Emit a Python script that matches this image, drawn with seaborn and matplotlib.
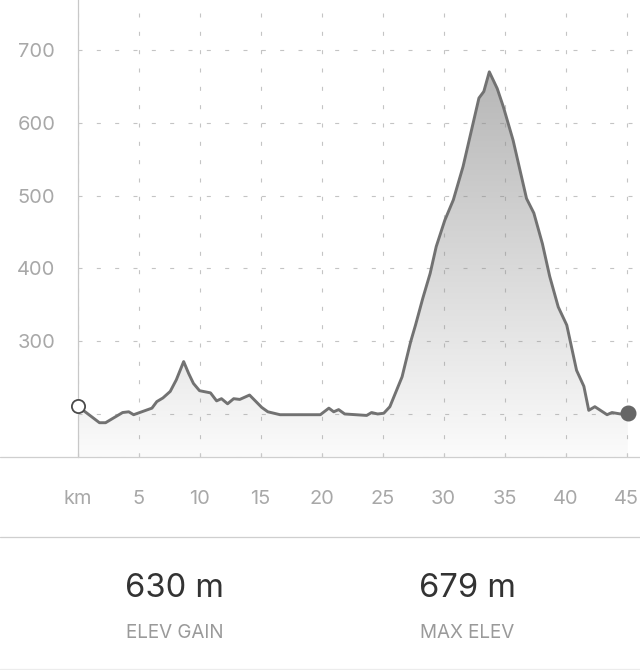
import numpy as np
import matplotlib
matplotlib.use("Agg")
import matplotlib.pyplot as plt
import seaborn as sns
from matplotlib.colors import LinearSegmentedColormap
from matplotlib.lines import Line2D

# ---- data ----
km = [0, 1.8, 2.3, 3.7, 4.2, 4.6, 6.1, 6.5, 7.0, 7.6, 8.1, 8.7, 9.1, 9.5, 10.0,
      10.9, 11.4, 11.8, 12.3, 12.8, 13.3, 14.1, 15.1, 15.6, 16.6, 19.9, 20.6,
      21.0, 21.4, 21.9, 23.7, 24.1, 24.6, 25.1, 25.6, 26.6, 27.3, 27.7, 28.3,
      28.9, 29.4, 30.1, 30.8, 31.6, 32.9, 33.3, 33.75, 34.4, 34.9, 35.7, 36.8,
      37.4, 38.1, 38.7, 39.4, 40.1, 40.9, 41.5, 41.9, 42.4, 43.4, 43.8, 44.5, 45.1]
elev = [211, 188, 188, 202, 203, 199, 208, 217, 222, 231, 247, 272, 256, 242, 232,
        229, 218, 221, 214, 221, 220, 226, 209, 203, 199, 199, 208,
        203, 206, 200, 198, 202, 200, 201, 210, 251, 299, 322, 359,
        393, 430, 466, 494, 540, 634, 643, 670, 647, 622, 576, 496,
        476, 434, 389, 347, 322, 260, 238, 205, 210, 199, 202, 200, 202]
x_ticks = [0, 5, 10, 15, 20, 25, 30, 35, 40, 45]
x_labels = ["km", "5", "10", "15", "20", "25", "30", "35", "40", "45"]
y_ticks = [200, 300, 400, 500, 600, 700]
y_labels = ["", "300", "400", "500", "600", "700"]
stat_values = ["630 m", "679 m"]
stat_names = ["ELEV GAIN", "MAX ELEV"]

sns.set_theme(style="white")
plt.rcParams['font.family'] = ['Inter', 'DejaVu Sans']

W, H = 640, 670
fig = plt.figure(figsize=(W / 100, H / 100), dpi=100)
fig.patch.set_facecolor("white")
ax_bottom_px = 457
ax = fig.add_axes([77.5 / W, 1 - ax_bottom_px / H, 1 - 77.5 / W, ax_bottom_px / H])
ax.set_facecolor("white")

XMIN, XMAX = 0, 46.1
YMIN, YMAX = 140.9, 768.7

# gradient fill clipped to area under the profile
fill = ax.fill_between(km, elev, YMIN, color="none", lw=0, zorder=1)
cmap = LinearSegmentedColormap.from_list("g", ["#aaaaaa", "#fbfbfb"])
grad = np.linspace(0, 1, 256).reshape(-1, 1)
im = ax.imshow(grad, extent=[XMIN, XMAX, YMIN, YMAX], origin="upper",
               cmap=cmap, aspect="auto", zorder=1)
im.set_clip_path(fill.get_paths()[0], transform=ax.transData)

sns.lineplot(x=km, y=elev, ax=ax, color="#727272", lw=2.1, zorder=3)
ax.plot([km[0]], [elev[0]], marker="o", ms=9.5, mfc="white", mec="#4a4a4a",
        mew=1.3, zorder=5, ls="none", clip_on=False)
ax.plot([km[-1]], [elev[-1]], marker="o", ms=10.5, mfc="#666666", mec="#666666",
        zorder=5, ls="none", clip_on=False)

ax.set_xlim(XMIN, XMAX)
ax.set_ylim(YMIN, YMAX)

ax.set_xticks(x_ticks)
ax.set_xticklabels(x_labels)
ax.set_yticks(y_ticks)
ax.set_yticklabels(y_labels)

ax.grid(True, color="#8a8a8a", alpha=0.5, lw=0.8, ls=(0, (3.6, 12.9)))
ax.set_axisbelow(False)

for s in ["top", "right", "bottom"]:
    ax.spines[s].set_visible(False)
ax.spines["left"].set_color("#c8c8c8")
ax.spines["left"].set_linewidth(0.9)
ax.spines["left"].set_zorder(2.6)

ax.tick_params(axis="y", length=0, pad=16, labelsize=14.4, labelcolor="#a8a8a8")
ax.tick_params(axis="x", direction="in", length=3, width=0.8, color="#c8c8c8",
               pad=24, labelsize=14.4, labelcolor="#a8a8a8", bottom=True)

# horizontal rules
def hline(ypx, color="#cfcfcf", lw=0.9):
    fig.add_artist(Line2D([0, 1], [1 - ypx / H, 1 - ypx / H], transform=fig.transFigure,
                          color=color, lw=lw))

hline(457.3)
hline(537.3)
hline(668.5, color="#ececec")

# stats
stat_x = [174.5, 467]
for sx, v, n in zip(stat_x, stat_values, stat_names):
    fig.text(sx / W, 1 - 597 / H, v, ha="center", va="baseline", fontsize=23.5,
             color="#333333")
    fig.text(sx / W, 1 - 638 / H, n, ha="center", va="baseline", fontsize=13.6,
             color="#9a9a9a")

fig.savefig("out.png", dpi=100, facecolor="white")
